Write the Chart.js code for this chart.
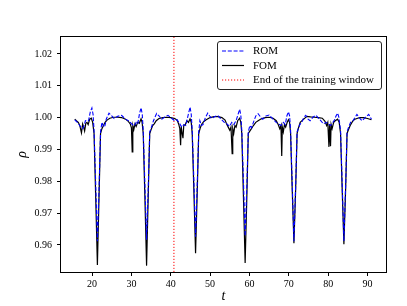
<!DOCTYPE html>
<html>
<head>
<meta charset="utf-8">
<script src="https://cdn.jsdelivr.net/npm/chart.js@4.4.1/dist/chart.umd.min.js"></script>
<style>
    html, body { margin: 0; padding: 0; background: #fff; }
    #rhoChart { display: block; }
</style>
</head>
<body>
<canvas id="rhoChart" width="407" height="306"></canvas>
<script>
// [t, rho]
const romPoints = [
    [15.6, 0.9993], [16.0, 0.9988], [16.5, 0.9982], [17.0, 0.9972], [17.6, 0.9965], [18.0, 0.9975], [18.3, 0.9990],
    [18.7, 0.9992], [19.1, 0.9990], [19.55, 1.0018], [19.95, 1.0030], [20.25, 1.0010], [20.5, 0.9960], [20.9, 0.9800],
    [21.35, 0.9612], [21.8, 0.9790], [22.15, 0.9955], [22.5, 0.9985], [22.8, 0.9975], [23.2, 0.9970], [23.6, 0.9995],
    [24.3, 1.0014], [25.0, 1.0005], [25.6, 0.9997], [26.5, 1.0004], [27.5, 1.0007], [28.5, 0.9995], [29.5, 0.9988],
    [30.2, 0.9978], [30.8, 0.9975], [31.2, 0.9985], [31.6, 0.9980], [32.05, 1.0012], [32.45, 1.0031], [32.75, 1.0010],
    [33.0, 0.9960], [33.4, 0.9800], [33.85, 0.9616], [34.3, 0.9790], [34.65, 0.9955], [35.1, 0.9970], [35.6, 0.9990],
    [36.4, 1.0013], [37.0, 1.0005], [37.7, 0.9995], [38.5, 1.0002], [39.3, 1.0007], [40.2, 0.9998], [41.0, 0.9990],
    [41.6, 0.9993], [42.2, 0.9982], [42.8, 0.9970], [43.3, 0.9978], [43.8, 0.9975], [44.5, 1.0012], [44.9, 1.0033],
    [45.2, 1.0010], [45.45, 0.9960], [45.85, 0.9810], [46.3, 0.9626], [46.75, 0.9800], [47.1, 0.9955], [47.4, 0.9990],
    [47.8, 0.9975], [48.2, 0.9978], [48.8, 1.0000], [49.4, 1.0014], [49.9, 1.0005], [50.4, 0.9997], [51.2, 1.0003],
    [51.9, 1.0007], [52.8, 0.9995], [53.6, 0.9985], [54.3, 0.9980], [54.9, 0.9972], [55.5, 0.9985], [56.0, 0.9978],
    [56.6, 0.9990], [57.1, 1.0010], [57.5, 1.0026], [57.8, 1.0008], [58.05, 0.9960], [58.45, 0.9810], [58.9, 0.9628],
    [59.35, 0.9790], [59.7, 0.9955], [60.1, 0.9975], [60.5, 0.9968], [61.0, 0.9985], [61.6, 1.0005], [62.2, 1.0012],
    [62.8, 1.0002], [63.4, 0.9995], [64.2, 1.0005], [65.0, 1.0008], [66.0, 0.9995], [66.8, 0.9985], [67.4, 0.9980],
    [68.0, 0.9975], [68.6, 0.9985], [69.1, 0.9978], [69.5, 1.0005], [69.9, 1.0018], [70.2, 1.0005], [70.45, 0.9960],
    [70.85, 0.9800], [71.3, 0.9612], [71.75, 0.9790], [72.1, 0.9955], [72.4, 0.9965], [72.8, 0.9978], [73.3, 0.9985],
    [73.8, 1.0000], [74.3, 1.0007], [74.9, 0.9995], [75.4, 0.9990], [76.2, 1.0002], [76.9, 1.0007], [77.8, 0.9995],
    [78.8, 0.9980], [79.5, 0.9985], [80.0, 0.9980], [80.6, 0.9975], [81.2, 0.9985], [81.6, 0.9992], [82.0, 1.0005],
    [82.4, 1.0014], [82.7, 1.0002], [83.15, 0.9960], [83.55, 0.9800], [84.0, 0.9612], [84.45, 0.9790], [84.8, 0.9955],
    [85.2, 0.9970], [85.7, 0.9985], [86.3, 0.9990], [87.3, 1.0010], [88.0, 0.9998], [88.6, 0.9990], [89.4, 1.0000],
    [90.3, 1.0010], [91.0, 0.9995]
];

const fomPoints = [
    [15.6, 0.9995], [16.0, 0.9990], [16.5, 0.9985], [16.9, 0.9974], [17.3, 0.9952], [17.6, 0.9980], [17.9, 0.9968],
    [18.1, 0.9958], [18.4, 0.9982], [18.7, 0.9985], [19.0, 0.9978], [19.4, 0.9995], [19.8, 0.9998], [20.15, 0.9985],
    [20.5, 0.9950], [20.9, 0.9760], [21.35, 0.9537], [21.8, 0.9770], [22.15, 0.9950], [22.5, 0.9965], [22.9, 0.9975],
    [23.3, 0.9985], [23.8, 0.9992], [24.5, 0.9998], [25.5, 1.0001], [26.5, 1.0001], [27.5, 1.0000], [28.5, 0.9995],
    [29.2, 0.9988], [29.7, 0.9980], [30.0, 0.9968], [30.2, 0.9892], [30.35, 0.9975], [30.6, 0.9962], [30.9, 0.9980],
    [31.2, 0.9972], [31.6, 0.9985], [32.0, 0.9982], [32.45, 0.9996], [32.7, 0.9986], [33.0, 0.9950], [33.4, 0.9760],
    [33.85, 0.9535], [34.3, 0.9770], [34.65, 0.9950], [35.0, 0.9962], [35.4, 0.9975], [35.8, 0.9980], [36.3, 0.9990],
    [37.0, 0.9997], [38.0, 1.0000], [39.0, 1.0001], [40.0, 1.0000], [41.0, 0.9997], [41.6, 0.9992], [42.0, 0.9980],
    [42.3, 0.9965], [42.5, 0.9913], [42.65, 0.9972], [42.9, 0.9950], [43.1, 0.9935], [43.3, 0.9975], [43.7, 0.9978],
    [44.1, 0.9990], [44.5, 0.9985], [44.9, 0.9996], [45.2, 0.9985], [45.45, 0.9950], [45.85, 0.9780], [46.3, 0.9574],
    [46.75, 0.9780], [47.1, 0.9950], [47.5, 0.9968], [47.9, 0.9980], [48.4, 0.9988], [49.0, 0.9993], [50.0, 1.0000],
    [51.0, 1.0003], [52.0, 1.0003], [53.0, 1.0000], [53.8, 0.9992], [54.2, 0.9980], [54.6, 0.9970], [55.0, 0.9960],
    [55.3, 0.9970], [55.6, 0.9887], [55.75, 0.9965], [56.0, 0.9950], [56.3, 0.9975], [56.6, 0.9970], [57.0, 0.9990],
    [57.5, 0.9998], [57.8, 0.9985], [58.05, 0.9950], [58.45, 0.9760], [58.9, 0.9543], [59.35, 0.9760], [59.7, 0.9950],
    [60.0, 0.9956], [60.5, 0.9965], [61.0, 0.9975], [61.6, 0.9985], [62.2, 0.9990], [63.0, 0.9996], [64.0, 1.0000],
    [65.0, 1.0001], [66.0, 0.9998], [66.8, 0.9990], [67.3, 0.9978], [67.7, 0.9965], [68.0, 0.9975], [68.2, 0.9879],
    [68.35, 0.9970], [68.6, 0.9955], [68.9, 0.9978], [69.2, 0.9970], [69.6, 0.9985], [69.9, 0.9993], [70.2, 0.9985],
    [70.45, 0.9950], [70.85, 0.9780], [71.3, 0.9605], [71.75, 0.9780], [72.1, 0.9950], [72.4, 0.9965], [72.9, 0.9985],
    [73.5, 0.9992], [74.6, 1.0004], [75.5, 1.0002], [76.5, 1.0001], [77.5, 1.0000], [78.5, 0.9998], [79.2, 0.9988],
    [79.6, 0.9975], [79.9, 0.9985], [80.2, 0.9908], [80.35, 0.9980], [80.6, 0.9910], [80.75, 0.9978], [81.0, 0.9965],
    [81.4, 0.9985], [81.8, 0.9990], [82.4, 0.9995], [82.8, 0.9985], [83.15, 0.9950], [83.55, 0.9780], [84.0, 0.9602],
    [84.45, 0.9780], [84.8, 0.9950], [85.1, 0.9960], [85.6, 0.9975], [86.2, 0.9988], [86.8, 0.9995], [87.5, 0.9998],
    [88.0, 1.0000], [89.0, 1.0000], [90.0, 0.9997], [91.0, 0.9993]
];

const trainEndT = 40.8;
const seriesLabels = ['ROM', 'FOM', 'End of the training window'];
const xTicks = [20, 30, 40, 50, 60, 70, 80, 90];
const yTicks = [0.96, 0.97, 0.98, 0.99, 1.00, 1.01, 1.02];
const xRange = [12.1, 94.7];
const yRange = [0.9515, 1.0253];

const serif = "'Liberation Serif', 'DejaVu Serif', serif";

const toXY = (points) => points.map(p => ({ x: p[0], y: p[1] }));

// box round the plot and the legend in the top right corner
const framePlugin = {
    id: 'frameAndLegend',
    afterDraw(chart) {
        const ctx = chart.ctx;
        const area = chart.chartArea;
        ctx.save();
        ctx.strokeStyle = '#000';
        ctx.lineWidth = 1;
        ctx.setLineDash([]);
        ctx.strokeRect(area.left - 0.5, area.top - 0.5, area.right - area.left + 1, area.bottom - area.top + 1);

        const box = { x: 217.5, y: 41.5, w: 164, h: 48 };
        ctx.beginPath();
        ctx.roundRect(box.x, box.y, box.w, box.h, 2.5);
        ctx.fillStyle = 'rgba(255,255,255,0.8)';
        ctx.fill();
        ctx.strokeStyle = '#222';
        ctx.stroke();

        ctx.font = '11px ' + serif;
        ctx.textBaseline = 'middle';
        ctx.textAlign = 'left';
        chart.data.datasets.forEach((ds, i) => {
            const rowY = 51 + i * 14.5;
            ctx.beginPath();
            ctx.strokeStyle = ds.borderColor;
            ctx.lineWidth = ds.borderWidth;
            ctx.setLineDash(ds.borderDash || []);
            ctx.moveTo(222, rowY);
            ctx.lineTo(244, rowY);
            ctx.stroke();
            ctx.setLineDash([]);
            ctx.fillStyle = '#000';
            ctx.fillText(ds.label, 253, rowY + 0.5);
        });
        ctx.restore();
    }
};

const ctx = document.getElementById('rhoChart').getContext('2d');

new Chart(ctx, {
    type: 'line',
    data: {
        datasets: [{
            label: seriesLabels[0],
            data: toXY(romPoints),
            borderColor: '#0000ff',
            borderWidth: 1.1,
            borderDash: [4, 1.8],
            pointRadius: 0,
            tension: 0,
            fill: false
        }, {
            label: seriesLabels[1],
            data: toXY(fomPoints),
            borderColor: '#000000',
            borderWidth: 1.2,
            pointRadius: 0,
            tension: 0,
            fill: false
        }, {
            label: seriesLabels[2],
            data: [{ x: trainEndT, y: yRange[0] }, { x: trainEndT, y: yRange[1] }],
            borderColor: '#ff0000',
            borderWidth: 1,
            borderDash: [1.2, 1.8],
            pointRadius: 0,
            fill: false
        }]
    },
    options: {
        responsive: false,
        animation: false,
        events: [],
        layout: {
            padding: { left: 0, right: 21, top: 37, bottom: 0 }
        },
        plugins: {
            legend: { display: false },
            tooltip: { enabled: false }
        },
        scales: {
            x: {
                type: 'linear',
                min: xRange[0],
                max: xRange[1],
                afterFit: (scale) => { scale.height = 34; },
                afterBuildTicks: (scale) => { scale.ticks = xTicks.map(v => ({ value: v })); },
                grid: { display: true, drawOnChartArea: false, drawTicks: true, tickLength: 4, color: '#000' },
                border: { display: false },
                ticks: {
                    color: '#000',
                    padding: 2,
                    maxRotation: 0,
                    font: { family: serif, size: 10 },
                    callback: (value) => String(value)
                },
                title: {
                    display: true,
                    text: 't',
                    color: '#000',
                    padding: { top: 0, bottom: 1 },
                    font: { family: serif, size: 14, style: 'italic' }
                }
            },
            y: {
                type: 'linear',
                min: yRange[0],
                max: yRange[1],
                afterFit: (scale) => { scale.width = 61; },
                afterBuildTicks: (scale) => { scale.ticks = yTicks.map(v => ({ value: v })); },
                grid: { display: true, drawOnChartArea: false, drawTicks: true, tickLength: 4, color: '#000' },
                border: { display: false },
                ticks: {
                    color: '#000',
                    padding: 5,
                    font: { family: serif, size: 10 },
                    callback: (value) => value.toFixed(2)
                },
                title: {
                    display: true,
                    text: 'ρ',
                    color: '#000',
                    padding: { top: 14, bottom: 0 },
                    font: { family: serif, size: 14, style: 'italic' }
                }
            }
        }
    },
    plugins: [framePlugin]
});
</script>
</body>
</html>
